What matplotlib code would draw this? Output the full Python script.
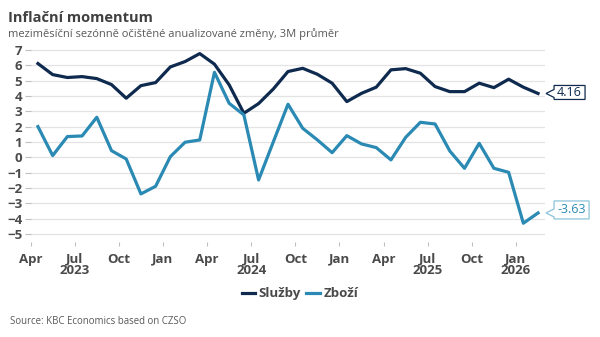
import numpy as np
import matplotlib.pyplot as plt
from matplotlib.patches import Polygon

plt.rcParams['font.family'] = ['Open Sans', 'DejaVu Sans']

# monthly values, Apr 2023 .. Feb 2026
months = ['Apr', 'May', 'Jun', 'Jul', 'Aug', 'Sep', 'Oct', 'Nov', 'Dec',
          'Jan', 'Feb', 'Mar', 'Apr', 'May', 'Jun', 'Jul', 'Aug', 'Sep',
          'Oct', 'Nov', 'Dec', 'Jan', 'Feb', 'Mar', 'Apr', 'May', 'Jun',
          'Jul', 'Aug', 'Sep', 'Oct', 'Nov', 'Dec', 'Jan', 'Feb']
sluzby = [6.11, 5.39, 5.20, 5.26, 5.13, 4.74, 3.85, 4.67, 4.87,
          5.89, 6.24, 6.76, 6.07, 4.72, 2.87, 3.50, 4.45, 5.59,
          5.80, 5.41, 4.83, 3.63, 4.17, 4.57, 5.70, 5.78, 5.48,
          4.61, 4.28, 4.28, 4.83, 4.54, 5.09, 4.57, 4.16]
zbozi = [2.00, 0.11, 1.35, 1.39, 2.61, 0.43, -0.11, -2.39, -1.89,
         0.04, 0.98, 1.13, 5.54, 3.52, 2.76, -1.48, 1.00, 3.46,
         1.89, 1.13, 0.30, 1.41, 0.87, 0.63, -0.17, 1.30, 2.28,
         2.17, 0.41, -0.72, 0.91, -0.72, -0.98, -4.30, -3.63]
year_labels = [('2023', 'Jul', 0), ('2024', 'Jul', 12), ('2025', 'Jul', 24), ('2026', 'Jan', 33)]

c_sluzby = '#0E2A4E'
c_zbozi = '#2A8AB3'
c_text = '#4A4A4A'

x = np.arange(len(months))

fig = plt.figure(figsize=(6.0, 3.37), dpi=100)
ax = fig.add_axes([0.051, 0.283, 0.858, 0.578])

ax.plot(x, sluzby, color=c_sluzby, lw=2.3, label='Služby', solid_joinstyle='round')
ax.plot(x, zbozi, color=c_zbozi, lw=2.3, label='Zboží', solid_joinstyle='round')

ax.set_xlim(-0.5, 34.5)
ax.set_ylim(-5.5, 7.2)
ax.set_yticks(range(-5, 8))
ax.yaxis.grid(True, color='#E3E3E3', lw=0.9)
ax.set_axisbelow(True)
for s in ax.spines.values():
    s.set_visible(False)

tick_pos = [i - 0.5 for i in range(0, len(months), 3)]
ax.set_xticks(tick_pos)
ax.set_xticklabels([months[i] for i in range(0, len(months), 3)])
ax.tick_params(axis='x', length=3, color='#BFBFBF', pad=5, labelsize=9.5, labelcolor=c_text)
ax.tick_params(axis='y', length=4, color='#BFBFBF', pad=2, labelsize=9.5, labelcolor=c_text)
for lab in ax.get_xticklabels() + ax.get_yticklabels():
    lab.set_fontweight('bold')

# year labels under the month labels
for yr, m, start in year_labels:
    i = start + months[start:].index(m)
    ax.text(i - 0.5, -0.15, yr, transform=ax.get_xaxis_transform(),
            ha='center', va='center', fontsize=9.5, fontweight='bold', color=c_text)


def callout(value, color, edge, top, bottom, width):
    # boxed value label with a pointer towards the last point (offsets in pixels)
    px, py = ax.transData.transform((x[-1], value))
    verts = [(px + 8, py), (px + 16, py + 4), (px + 16, py + top), (px + 16 + width, py + top),
             (px + 16 + width, py - bottom), (px + 16, py - bottom), (px + 16, py - 4)]
    poly = Polygon(verts, closed=True, transform=None, facecolor='white',
                   edgecolor=edge, lw=0.9, clip_on=False)
    fig.patches.append(poly)
    fig.text((px + 16 + width / 2) / fig.dpi / fig.get_figwidth(),
             (py + (top - bottom) / 2) / fig.dpi / fig.get_figheight(),
             f'{value:.2f}', ha='center', va='center', fontsize=9, color=color)


callout(sluzby[-1], c_sluzby, c_sluzby, 8, 6, 31)
callout(zbozi[-1], c_zbozi, '#8CC3DA', 12, 6, 35)

fig.text(0.013, 0.948, 'Inflační momentum', fontsize=10.5, fontweight='bold', color='#404040', va='center')
fig.text(0.013, 0.899, 'meziměsíční sezónně očištěné anualizované změny, 3M průměr',
         fontsize=8.0, color='#595959', va='center')
fig.text(0.017, 0.047, 'Source: KBC Economics based on CZSO', fontsize=6.9, color='#595959', va='center')

leg = fig.legend(loc='center', bbox_to_anchor=(0.5, 0.128), ncol=2, frameon=False,
                 handlelength=1.0, handletextpad=0.3, columnspacing=0.4,
                 prop={'size': 9.5, 'weight': 'bold'})
for t in leg.get_texts():
    t.set_color(c_text)

fig.savefig('out.png', dpi=100)
